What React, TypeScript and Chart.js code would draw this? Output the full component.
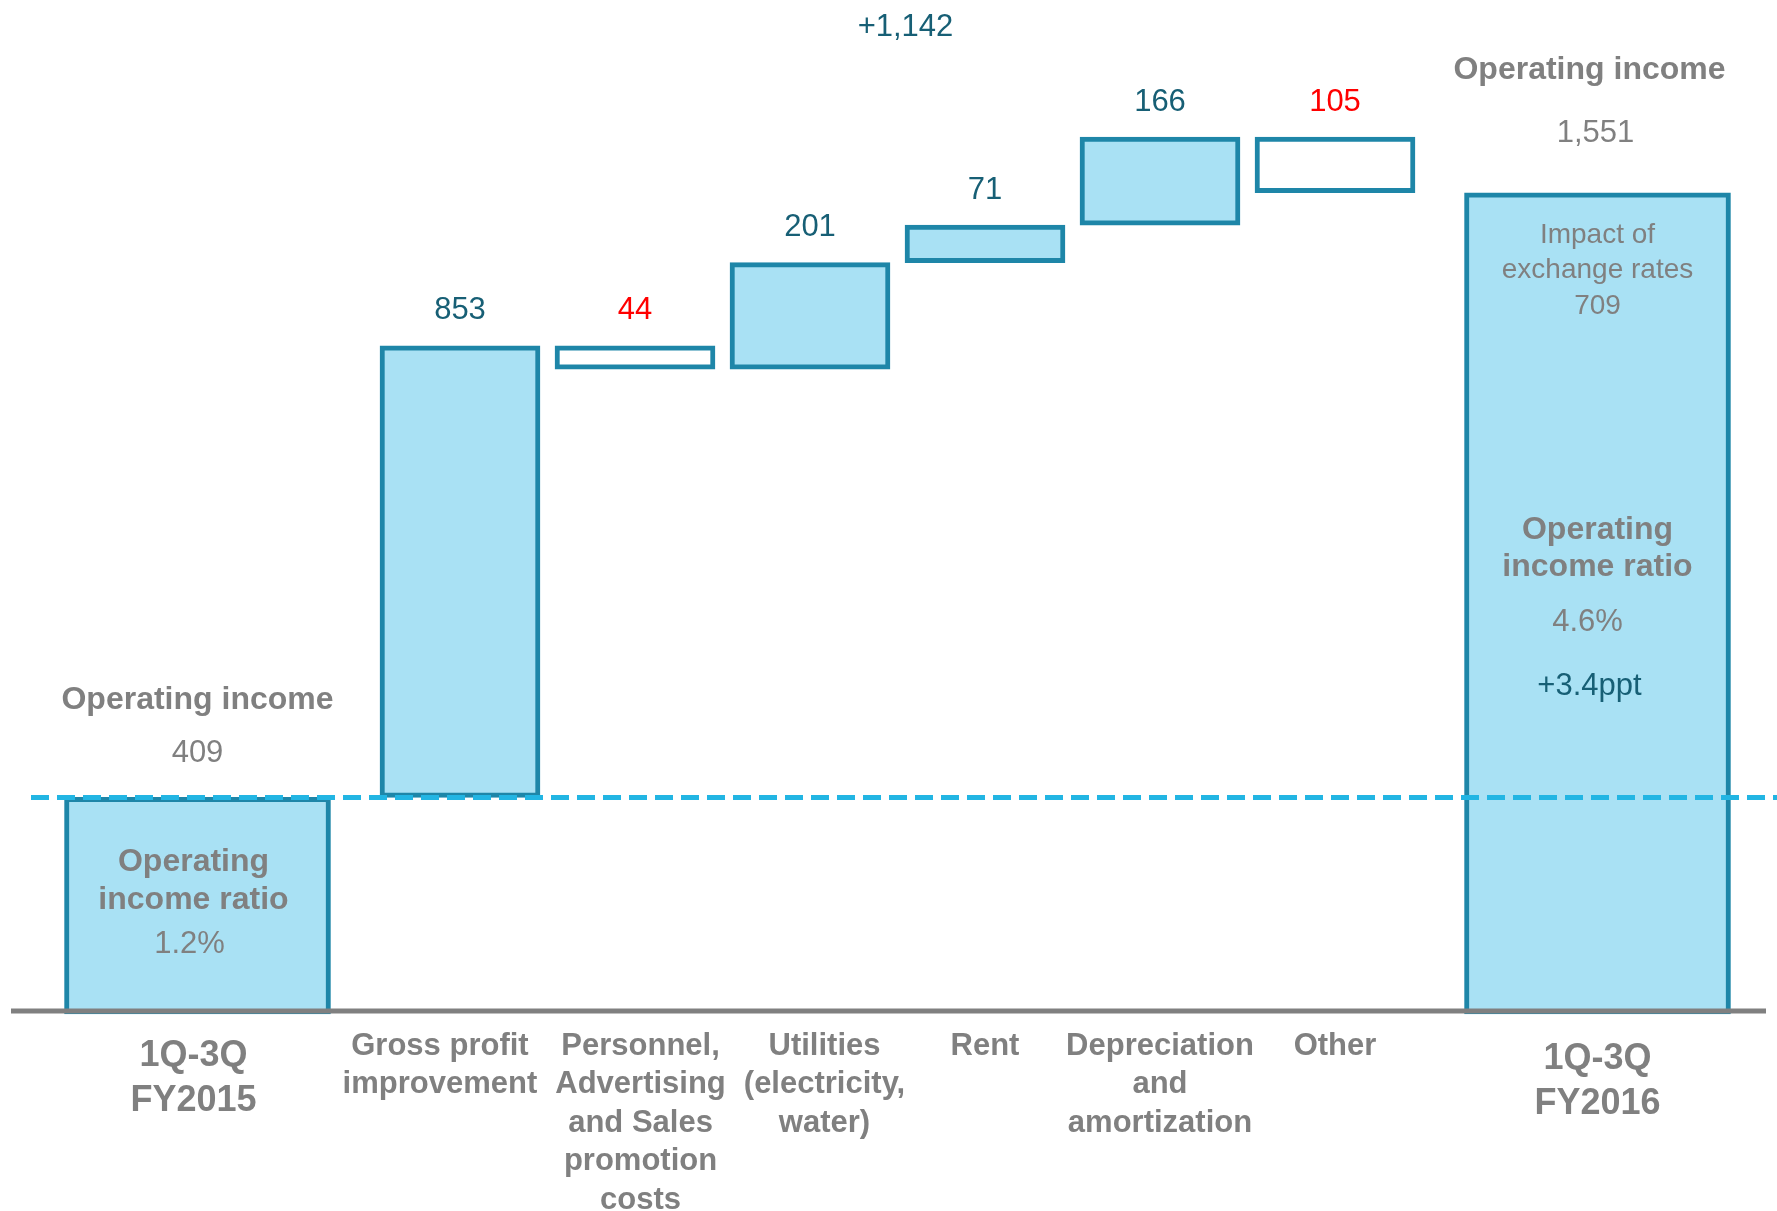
import React, { useEffect, useRef } from 'react';
import { Chart, registerables } from 'chart.js';

Chart.register(...registerables);

// ---- data ----
const totalCategories: string[][] = [['1Q-3Q', 'FY2015'], ['1Q-3Q', 'FY2016']];
const totalValues: number[] = [409, 1551];
const changeCategories: string[][] = [
  ['Gross profit', 'improvement'],
  ['Personnel,', 'Advertising', 'and Sales', 'promotion', 'costs'],
  ['Utilities', '(electricity,', 'water)'],
  ['Rent'],
  ['Depreciation', 'and', 'amortization'],
  ['Other'],
];
const changeValues: number[] = [853, -44, 201, 71, 166, -105];
const ratioStart = '1.2%';
const ratioEnd = '4.6%';
const ratioChangeText = '+3.4ppt';
const fxImpactValue = 709;

// ---- styles ----
const FONT = '"Liberation Sans", Arial, Helvetica, sans-serif';
const BAR_FILL = '#A9E1F4';
const BAR_BORDER = '#1E86A8';
const TEAL = '#175F75';
const RED = '#FF0000';
const GRAY = '#808080';
const DASH = '#22B5E3';

const fmt = (v: number) => v.toLocaleString('en-US');

// floating ranges for the change bars
const changeRanges: [number, number][] = [];
{
  let run = totalValues[0];
  for (const d of changeValues) {
    changeRanges.push([run, run + d]);
    run += d;
  }
}
const changeSum = changeValues.reduce((a, b) => a + b, 0);

const annotationPlugin = {
  id: 'wfAnnotations',
  afterDatasetsDraw(chart: any) {
    const ctx: CanvasRenderingContext2D = chart.ctx;
    const ys = chart.scales.y;
    const xm = chart.scales.xMid;
    const xe = chart.scales.xEnd;
    const W = chart.width;
    const y0 = ys.getPixelForValue(0);

    const text = (s: string, x: number, y: number, size: number, color: string, bold = false) => {
      ctx.save();
      ctx.font = `${bold ? 'bold ' : ''}${size}px ${FONT}`;
      ctx.fillStyle = color;
      ctx.textAlign = 'center';
      ctx.textBaseline = 'middle';
      ctx.fillText(s, x, y);
      ctx.restore();
    };

    // dashed reference line at the starting operating income
    const yStart = ys.getPixelForValue(totalValues[0]);
    ctx.save();
    ctx.strokeStyle = DASH;
    ctx.lineWidth = 5;
    ctx.setLineDash([18, 8]);
    ctx.beginPath();
    ctx.moveTo(31, yStart);
    ctx.lineTo(W, yStart);
    ctx.stroke();
    ctx.restore();

    // baseline axis
    ctx.save();
    ctx.strokeStyle = GRAY;
    ctx.lineWidth = 5;
    ctx.beginPath();
    ctx.moveTo(11, y0 - 3);
    ctx.lineTo(W - 11, y0 - 3);
    ctx.stroke();
    ctx.restore();

    // change labels above the boxes
    changeValues.forEach((d, i) => {
      const x = xm.getPixelForValue(i + 1);
      const top = ys.getPixelForValue(Math.max(...changeRanges[i]));
      text(fmt(Math.abs(d)), x, top - 35, 31, d < 0 ? RED : TEAL);
    });

    // total change
    const xFirst = xm.getPixelForValue(1);
    const xLast = xm.getPixelForValue(changeValues.length);
    text((changeSum >= 0 ? '+' : '') + fmt(changeSum), (xFirst + xLast) / 2 + 8, chart.chartArea.top + 19, 31, TEAL);

    // left total
    const xL = xe.getPixelForValue(0);
    const topL = ys.getPixelForValue(totalValues[0]);
    text('Operating income', xL, topL - 97, 32, GRAY, true);
    text(fmt(totalValues[0]), xL, topL - 44, 31, GRAY);
    const midL = (topL + y0) / 2;
    text('Operating', xL - 4, midL - 44, 32, GRAY, true);
    text('income ratio', xL - 4, midL - 6, 32, GRAY, true);
    text(ratioStart, xL - 8, midL + 39, 31, GRAY);

    // right total
    const xR = xe.getPixelForValue(1);
    const topR = ys.getPixelForValue(totalValues[1]);
    text('Operating income', xR - 8, topR - 123, 32, GRAY, true);
    text(fmt(totalValues[1]), xR - 2, topR - 59, 31, GRAY);
    text('Impact of', xR, topR + 42, 28, GRAY);
    text('exchange rates', xR, topR + 77, 28, GRAY);
    text(fmt(fxImpactValue), xR, topR + 113, 28, GRAY);
    text('Operating', xR, topR + 337, 32, GRAY, true);
    text('income ratio', xR, topR + 374, 32, GRAY, true);
    text(ratioEnd, xR - 10, topR + 430, 31, GRAY);
    text(ratioChangeText, xR - 8, topR + 494, 31, TEAL);

    // category labels below the axis, spread apart if they would collide
    type Item = { x: number; lines: string[]; size: number; lh: number; y: number; half: number };
    const items: Item[] = [];
    const measure = (lines: string[], size: number) => {
      ctx.save();
      ctx.font = `bold ${size}px ${FONT}`;
      const w = Math.max(...lines.map((l) => ctx.measureText(l).width));
      ctx.restore();
      return w / 2;
    };
    items.push({ x: xL - 4, lines: totalCategories[0], size: 36, lh: 45, y: y0 + 42, half: measure(totalCategories[0], 36) });
    changeCategories.forEach((lines, i) => {
      items.push({ x: xm.getPixelForValue(i + 1), lines, size: 31, lh: 38.5, y: y0 + 32, half: measure(lines, 31) });
    });
    items.push({ x: xR, lines: totalCategories[1], size: 36, lh: 45, y: y0 + 45, half: measure(totalCategories[1], 36) });
    const GAP = 18;
    for (let it = 0; it < 40; it++) {
      for (let i = 0; i < items.length - 1; i++) {
        const a = items[i];
        const b = items[i + 1];
        const need = a.half + b.half + GAP;
        const d = b.x - a.x;
        if (d < need) {
          const p = (need - d) / 2;
          a.x -= p;
          b.x += p;
        }
      }
    }
    items.forEach((itm) => {
      itm.lines.forEach((l, k) => text(l, itm.x, itm.y + k * itm.lh, itm.size, GRAY, true));
    });
  },
};

export default function App() {
  const ref = useRef<HTMLCanvasElement | null>(null);

  useEffect(() => {
    if (!ref.current) return;
    const midLabels = ['', ...changeCategories.map((c) => c.join(' ')), ''];
    const endLabels = totalCategories.map((c) => c.join(' '));
    const chart = new Chart(ref.current, {
      type: 'bar',
      data: {
        datasets: [
          {
            label: 'Totals',
            data: totalValues,
            xAxisID: 'xEnd',
            yAxisID: 'y',
            backgroundColor: BAR_FILL,
            borderColor: BAR_BORDER,
            borderWidth: 5,
            borderSkipped: false,
            barThickness: 266,
            grouped: false,
            clip: false,
          } as any,
          {
            label: 'Changes',
            data: [null, ...changeRanges, null] as any,
            xAxisID: 'xMid',
            yAxisID: 'y',
            backgroundColor: [null, ...changeValues.map((d) => (d < 0 ? '#FFFFFF' : BAR_FILL)), null] as any,
            borderColor: BAR_BORDER,
            borderWidth: 5,
            borderSkipped: false,
            barThickness: 160,
            grouped: false,
            clip: false,
          } as any,
        ],
      },
      options: {
        animation: false,
        responsive: true,
        maintainAspectRatio: false,
        devicePixelRatio: 1,
        layout: { padding: { left: 197.5, right: 179.5, top: 8, bottom: 197 } },
        plugins: { legend: { display: false }, tooltip: { enabled: false } },
        scales: {
          xMid: { type: 'category', labels: midLabels, offset: true, display: false },
          xEnd: { type: 'category', labels: endLabels, offset: false, display: false },
          y: { type: 'linear', min: 0, max: 1900, display: false },
        },
      } as any,
      plugins: [annotationPlugin],
    });
    return () => chart.destroy();
  }, []);

  return (
    <div style={{ position: 'fixed', left: 0, top: 0, width: '100vw', height: '100vh', background: '#ffffff' }}>
      <canvas ref={ref} />
    </div>
  );
}
